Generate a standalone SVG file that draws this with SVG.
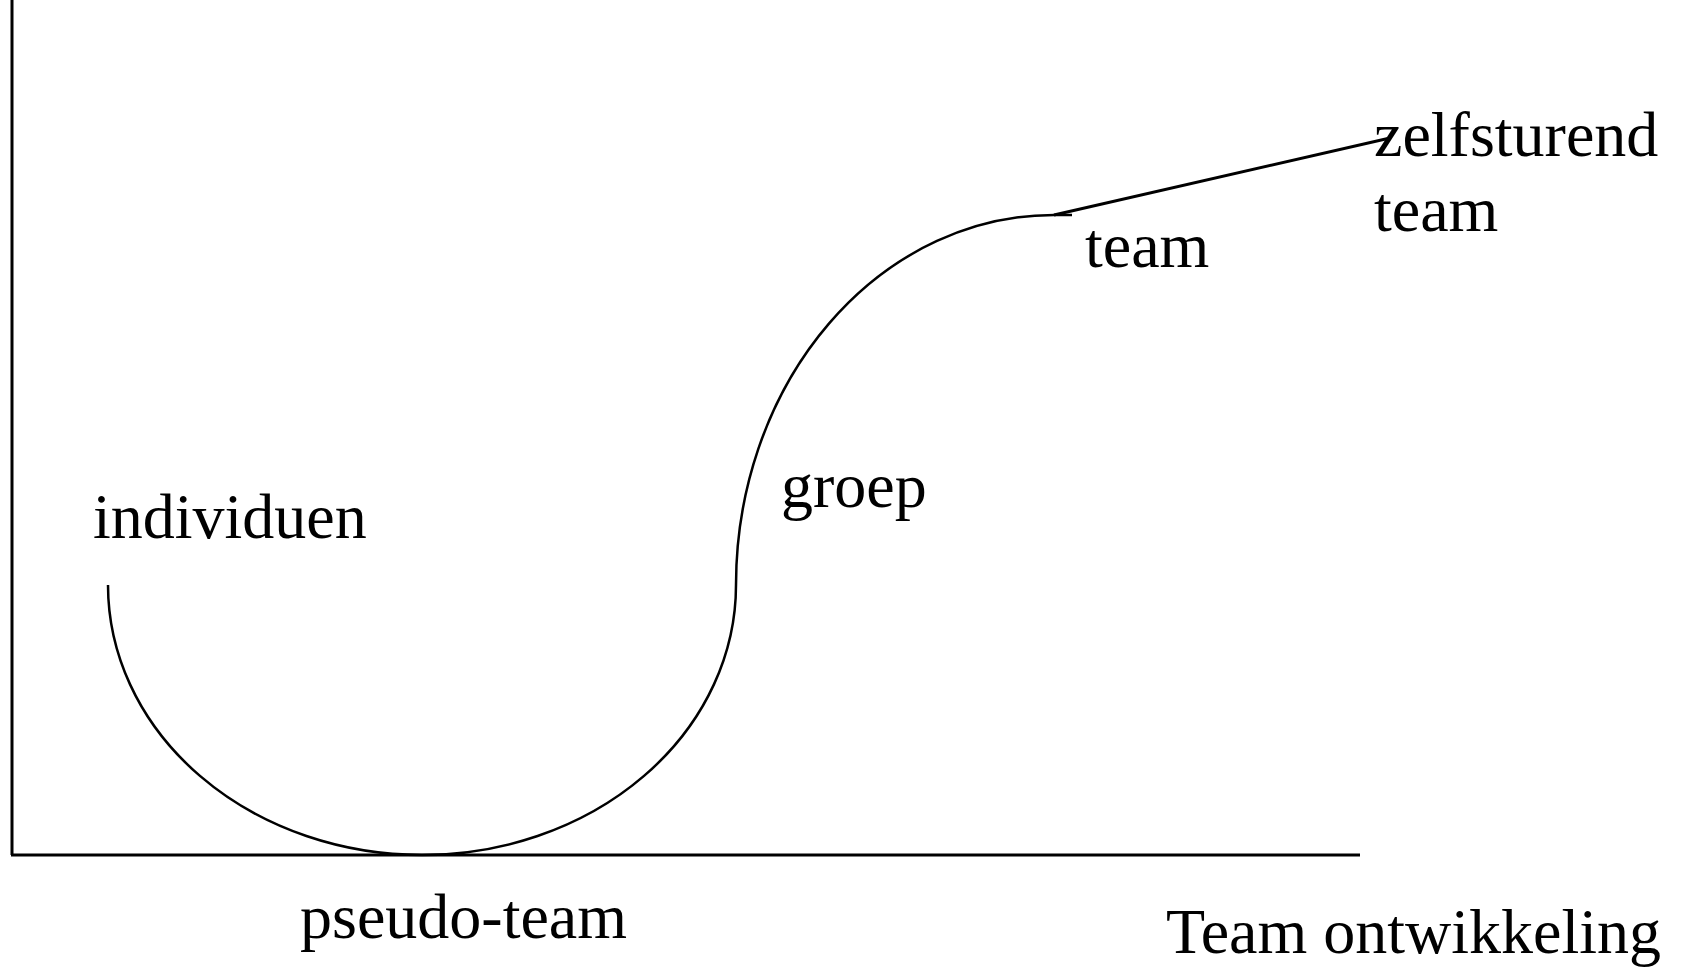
<svg xmlns="http://www.w3.org/2000/svg" width="1687" height="970" viewBox="0 0 1687 970">
<style>
.t{font-family:"Liberation Serif","Times New Roman",serif;font-size:64px;fill:#000}
.ax{stroke:#000;stroke-width:3;fill:none}
.cv{stroke:#000;stroke-width:2.5;fill:none}
.ln{stroke:#000;stroke-width:3;fill:none}
</style>
<rect width="1687" height="970" fill="#fff"/>
<g id="connectors">
<path class="ax" d="M12 0 V855 M11 855 H1360"/>
<path class="cv" d="M108 585 A314 270 0 0 0 736 585 A318 370 0 0 1 1054 215 H1072"/>
<path class="ln" d="M1054 215 L1390 138"/>
</g>
<g id="individuen"><text class="t" x="93" y="538">individuen</text></g>
<g id="pseudo-team"><text class="t" x="300" y="938">pseudo-team</text></g>
<g id="groep"><text class="t" x="781" y="507">groep</text></g>
<g id="team"><text class="t" x="1085" y="267">team</text></g>
<g id="zelfsturend"><text class="t" x="1374" y="156">zelfsturend</text><text class="t" x="1374" y="231">team</text></g>
<g id="axis-label"><text class="t" x="1166" y="953">Team ontwikkeling</text></g>
</svg>
